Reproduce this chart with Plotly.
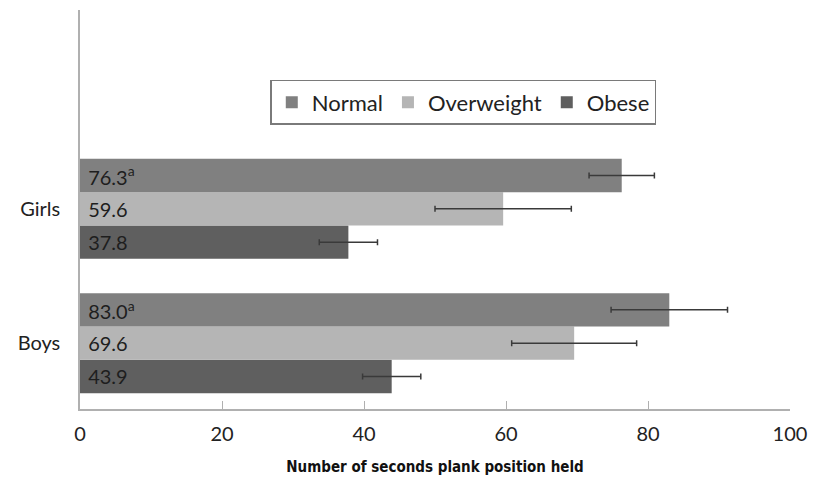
import plotly.graph_objects as go

groups = ["Boys", "Girls"]
series = ["Normal", "Overweight", "Obese"]
means = {
    "Normal": [83.0, 76.3],
    "Overweight": [69.6, 59.6],
    "Obese": [43.9, 37.8],
}
errors = {
    "Normal": [8.2, 4.6],
    "Overweight": [8.8, 9.6],
    "Obese": [4.1, 4.1],
}
superscripts = {
    "Normal": ["a", "a"],
    "Overweight": ["", ""],
    "Obese": ["", ""],
}
colors = {"Normal": "#808080", "Overweight": "#b5b5b5", "Obese": "#5f5f5f"}
x_ticks = [0, 20, 40, 60, 80, 100]

FONT = "Lato, Open Sans, sans-serif"
ypos = [0, 1]

fig = go.Figure()
# grouped bars are laid out bottom-up, so Obese goes first to put Normal on top
for rank, name in zip([3, 2, 1], ["Obese", "Overweight", "Normal"]):
    vals = means[name]
    labels = [
        "\u00a0" + f"{v:.1f}" + (f"<sup>{s}</sup>" if s else "")
        for v, s in zip(vals, superscripts[name])
    ]
    fig.add_trace(go.Bar(
        y=ypos,
        x=vals,
        orientation="h",
        name=name,
        legendrank=rank,
        marker=dict(color=colors[name], line=dict(width=0)),
        text=labels,
        textposition="inside",
        insidetextanchor="start",
        textfont=dict(family=FONT, size=20, color="#1e1e1e"),
        constraintext="none",
        cliponaxis=False,
        error_x=dict(
            type="data",
            array=errors[name],
            symmetric=True,
            color="#3a3a3a",
            thickness=1.5,
            width=3,
        ),
    ))

fig.update_layout(
    width=814,
    height=477,
    margin=dict(l=80, r=24, t=10, b=68, autoexpand=False),
    paper_bgcolor="white",
    plot_bgcolor="white",
    barmode="group",
    bargap=0.256,
    bargroupgap=0,
    font=dict(family=FONT, color="#222222"),
    showlegend=True,
    legend=dict(
        orientation="h",
        x=0.268,
        y=0.8246,
        xanchor="left",
        yanchor="top",
        bgcolor="white",
        bordercolor="#7a7a7a",
        borderwidth=1.5,
        font=dict(family=FONT, size=22, color="#222222"),
        itemwidth=30,
        tracegroupgap=0,
    ),
    xaxis=dict(
        range=[0, 100],
        tickvals=x_ticks,
        ticktext=[str(t) for t in x_ticks],
        ticks="inside",
        ticklen=8,
        tickcolor="#b0b0b0",
        showline=True,
        linecolor="#b0b0b0",
        linewidth=1.5,
        showgrid=False,
        zeroline=False,
        automargin=False,
        ticklabelstandoff=6,
        tickfont=dict(family=FONT, size=20, color="#222222"),
        title=dict(
            text="<b>Number of seconds plank position held</b>",
            font=dict(family="Liberation Sans Narrow, DejaVu Sans Condensed, sans-serif",
                      size=15, color="#111111"),
            standoff=18,
        ),
    ),
    yaxis=dict(
        range=[-0.49, 2.48],
        tickvals=ypos,
        ticktext=groups,
        ticks="",
        showline=True,
        linecolor="#b0b0b0",
        linewidth=1.5,
        showgrid=False,
        zeroline=False,
        automargin=False,
        ticklabelstandoff=14,
        tickfont=dict(family=FONT, size=20, color="#222222"),
    ),
)

fig.write_html("out.html")
